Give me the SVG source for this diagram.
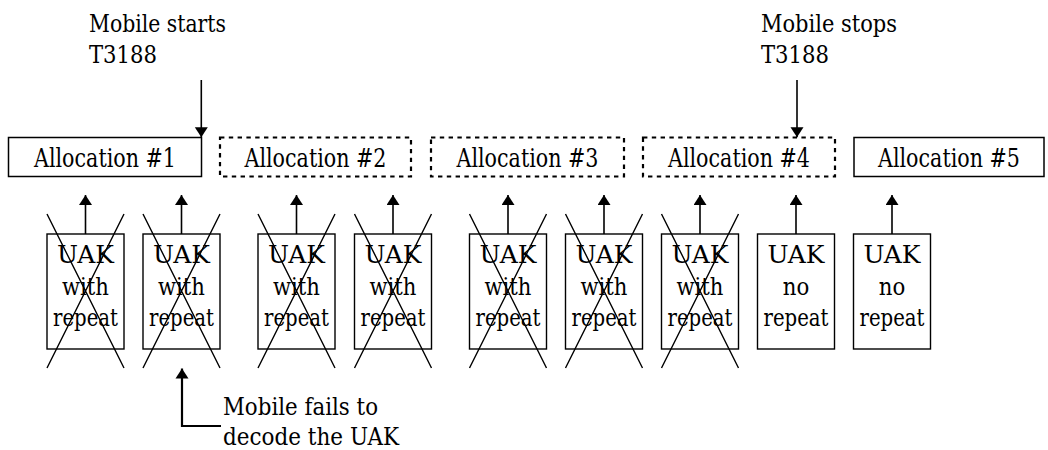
<svg xmlns="http://www.w3.org/2000/svg" width="1048" height="450" viewBox="0 0 1048 450">
<style>
text{font-family:'DejaVu Serif',serif;fill:#000}
.alloc{font-size:25.5px;text-anchor:middle}
.uak{font-size:24px;text-anchor:middle}
.note{font-size:23.6px}
.solid{fill:#fff;stroke:#000;stroke-width:1.5}
.dash{fill:#fff;stroke:#000;stroke-width:2.2;stroke-dasharray:4.4 4.4}
.box{fill:#fff;stroke:#000;stroke-width:1.4}
.x{stroke:#000;stroke-width:1.4;fill:none}
.arr{stroke:#000;stroke-width:1.6;fill:none;marker-end:url(#ah)}
.call{stroke:#000;stroke-width:2.2;fill:none;marker-start:url(#ahs)}
</style>
<defs>
<marker id="ah" markerUnits="userSpaceOnUse" markerWidth="14" markerHeight="14" refX="10" refY="6.5" orient="auto"><path d="M0,0 L10,6.5 L0,13 Z" fill="#000"/></marker>
<marker id="ahs" markerUnits="userSpaceOnUse" markerWidth="14" markerHeight="14" refX="0" refY="6.5" orient="auto"><path d="M10,0 L0,6.5 L10,13 Z" fill="#000"/></marker>
</defs>
<rect width="1048" height="450" fill="#fff"/>

<g id="alloc1"><rect class="solid" x="8.5" y="137.5" width="193" height="39"/><text class="alloc" x="105" y="166.5" textLength="142" lengthAdjust="spacingAndGlyphs">Allocation #1</text></g>
<g id="alloc2"><rect class="dash" x="220" y="137.5" width="191" height="39"/><text class="alloc" x="315.5" y="166.5" textLength="142" lengthAdjust="spacingAndGlyphs">Allocation #2</text></g>
<g id="alloc3"><rect class="dash" x="431" y="137.5" width="193" height="39"/><text class="alloc" x="527.5" y="166.5" textLength="142" lengthAdjust="spacingAndGlyphs">Allocation #3</text></g>
<g id="alloc4"><rect class="dash" x="643" y="137.5" width="192" height="39"/><text class="alloc" x="739" y="166.5" textLength="142" lengthAdjust="spacingAndGlyphs">Allocation #4</text></g>
<g id="alloc5"><rect class="solid" x="854" y="137.5" width="190" height="39"/><text class="alloc" x="949" y="166.5" textLength="142" lengthAdjust="spacingAndGlyphs">Allocation #5</text></g>

<g id="uak1"><rect class="box" x="47" y="234" width="77" height="115"/><text class="uak" x="85.5" y="263" textLength="57" lengthAdjust="spacingAndGlyphs">UAK</text><text class="uak" x="85.5" y="294.5" textLength="47" lengthAdjust="spacingAndGlyphs">with</text><text class="uak" x="85.5" y="326" textLength="65" lengthAdjust="spacingAndGlyphs">repeat</text><path class="x" d="M47,214 L124,368 M124,214 L47,368"/></g>
<g id="uak2"><rect class="box" x="143" y="234" width="77" height="115"/><text class="uak" x="181.5" y="263" textLength="57" lengthAdjust="spacingAndGlyphs">UAK</text><text class="uak" x="181.5" y="294.5" textLength="47" lengthAdjust="spacingAndGlyphs">with</text><text class="uak" x="181.5" y="326" textLength="65" lengthAdjust="spacingAndGlyphs">repeat</text><path class="x" d="M143,214 L220,368 M220,214 L143,368"/></g>
<g id="uak3"><rect class="box" x="258" y="234" width="77" height="115"/><text class="uak" x="296.5" y="263" textLength="57" lengthAdjust="spacingAndGlyphs">UAK</text><text class="uak" x="296.5" y="294.5" textLength="47" lengthAdjust="spacingAndGlyphs">with</text><text class="uak" x="296.5" y="326" textLength="65" lengthAdjust="spacingAndGlyphs">repeat</text><path class="x" d="M258,214 L335,368 M335,214 L258,368"/></g>
<g id="uak4"><rect class="box" x="354.5" y="234" width="77" height="115"/><text class="uak" x="393" y="263" textLength="57" lengthAdjust="spacingAndGlyphs">UAK</text><text class="uak" x="393" y="294.5" textLength="47" lengthAdjust="spacingAndGlyphs">with</text><text class="uak" x="393" y="326" textLength="65" lengthAdjust="spacingAndGlyphs">repeat</text><path class="x" d="M354.5,214 L431.5,368 M431.5,214 L354.5,368"/></g>
<g id="uak5"><rect class="box" x="469.5" y="234" width="77" height="115"/><text class="uak" x="508" y="263" textLength="57" lengthAdjust="spacingAndGlyphs">UAK</text><text class="uak" x="508" y="294.5" textLength="47" lengthAdjust="spacingAndGlyphs">with</text><text class="uak" x="508" y="326" textLength="65" lengthAdjust="spacingAndGlyphs">repeat</text><path class="x" d="M469.5,214 L546.5,368 M546.5,214 L469.5,368"/></g>
<g id="uak6"><rect class="box" x="565.5" y="234" width="77" height="115"/><text class="uak" x="604" y="263" textLength="57" lengthAdjust="spacingAndGlyphs">UAK</text><text class="uak" x="604" y="294.5" textLength="47" lengthAdjust="spacingAndGlyphs">with</text><text class="uak" x="604" y="326" textLength="65" lengthAdjust="spacingAndGlyphs">repeat</text><path class="x" d="M565.5,214 L642.5,368 M642.5,214 L565.5,368"/></g>
<g id="uak7"><rect class="box" x="661.5" y="234" width="77" height="115"/><text class="uak" x="700" y="263" textLength="57" lengthAdjust="spacingAndGlyphs">UAK</text><text class="uak" x="700" y="294.5" textLength="47" lengthAdjust="spacingAndGlyphs">with</text><text class="uak" x="700" y="326" textLength="65" lengthAdjust="spacingAndGlyphs">repeat</text><path class="x" d="M661.5,214 L738.5,368 M738.5,214 L661.5,368"/></g>
<g id="uak8"><rect class="box" x="757.5" y="234" width="77" height="115"/><text class="uak" x="796" y="263" textLength="57" lengthAdjust="spacingAndGlyphs">UAK</text><text class="uak" x="796" y="294.5" textLength="26.5" lengthAdjust="spacingAndGlyphs">no</text><text class="uak" x="796" y="326" textLength="65" lengthAdjust="spacingAndGlyphs">repeat</text></g>
<g id="uak9"><rect class="box" x="853.5" y="234" width="77" height="115"/><text class="uak" x="892" y="263" textLength="57" lengthAdjust="spacingAndGlyphs">UAK</text><text class="uak" x="892" y="294.5" textLength="26.5" lengthAdjust="spacingAndGlyphs">no</text><text class="uak" x="892" y="326" textLength="65" lengthAdjust="spacingAndGlyphs">repeat</text></g>

<g id="note-start"><text class="note" x="89" y="31.5" textLength="137" lengthAdjust="spacingAndGlyphs">Mobile starts</text><text class="note" x="89" y="63" textLength="68" lengthAdjust="spacingAndGlyphs">T3188</text></g>
<g id="note-stop"><text class="note" x="761" y="31.5" textLength="136" lengthAdjust="spacingAndGlyphs">Mobile stops</text><text class="note" x="761" y="63" textLength="68" lengthAdjust="spacingAndGlyphs">T3188</text></g>
<g id="note-fail"><text class="note" x="223" y="415" textLength="155" lengthAdjust="spacingAndGlyphs">Mobile fails to</text><text class="note" x="223" y="445" textLength="176" lengthAdjust="spacingAndGlyphs">decode the UAK</text></g>

<g id="connectors">
<path class="arr" d="M201.3,80 V137.3"/>
<path class="arr" d="M797,80 V137.3"/>
<path class="arr" d="M85.5,234 V195"/>
<path class="arr" d="M181.5,234 V195"/>
<path class="arr" d="M296.5,234 V195"/>
<path class="arr" d="M393,234 V195"/>
<path class="arr" d="M508,234 V195"/>
<path class="arr" d="M604,234 V195"/>
<path class="arr" d="M700,234 V195"/>
<path class="arr" d="M796,234 V195"/>
<path class="arr" d="M892,234 V195"/>
<path class="call" d="M182,368.5 V426 H221"/>
</g>
</svg>
